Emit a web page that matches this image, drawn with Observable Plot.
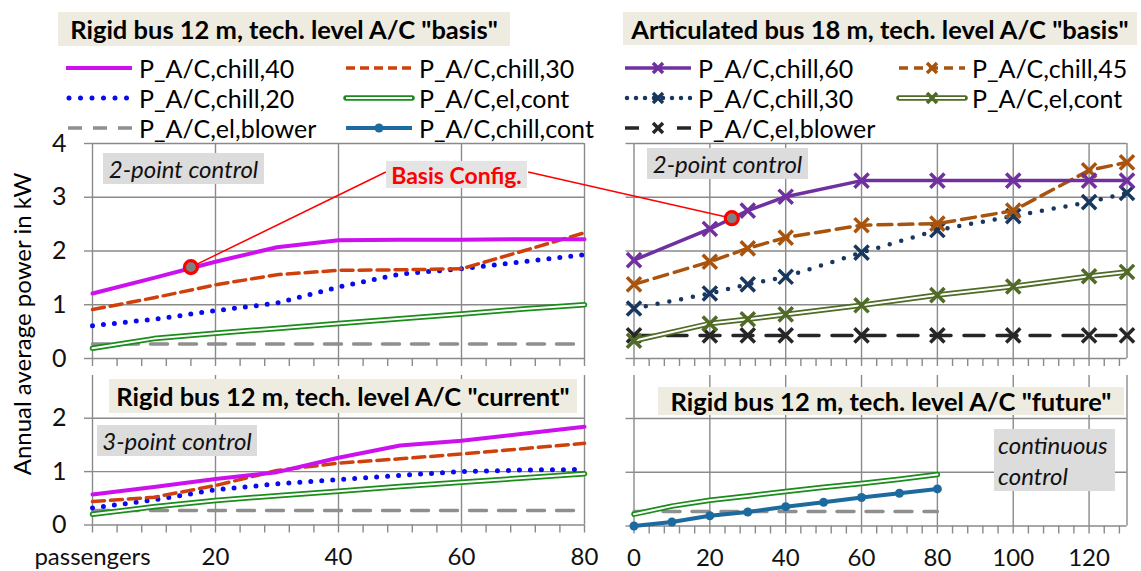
<!DOCTYPE html>
<html><head><meta charset="utf-8">
<script src="https://cdn.jsdelivr.net/npm/d3@7"></script>
<script src="https://cdn.jsdelivr.net/npm/@observablehq/plot@0.6"></script>
<style>
body{margin:0;background:#fff;font-family:Lato,"Open Sans",sans-serif;color:#000;}
#wrap{position:relative;width:1141px;height:571px;overflow:hidden;background:#fff;}
.box{position:absolute;display:flex;align-items:center;justify-content:center;white-space:nowrap;z-index:5;}
.title{background:#eeece1;font-weight:bold;font-size:25.5px;color:#000;}
.ctrl{background:#dcdcdc;font-style:italic;font-size:24px;color:#111;}
.basis{background:#e4e4e4;font-weight:bold;font-size:23px;color:#ff0000;}
.leg{position:absolute;display:flex;align-items:center;font-size:25px;height:28px;white-space:nowrap;z-index:5;}
.leg svg{margin-right:7px;}
.ytitle{position:absolute;left:21px;top:324px;transform:translate(-50%,-50%) rotate(-90deg);font-size:24px;white-space:nowrap;z-index:5;}
</style></head><body><div id="wrap"></div><script>
// ---------------- data ----------------
// Rigid bus 12 m (x = passengers)
const rigidPassengers = [0, 10, 20, 30, 40, 50, 60, 70, 80];
// tech. level "basis"
const basisChill40   = [1.21, 1.50, 1.80, 2.07, 2.20, 2.21, 2.21, 2.22, 2.22];
const basisChill30   = [0.91, 1.13, 1.37, 1.56, 1.64, 1.65, 1.67, 2.00, 2.34];
const basisChill20   = [0.61, 0.73, 0.89, 1.03, 1.33, 1.57, 1.67, 1.80, 1.93];
const basisElCont    = [0.19, 0.37, 0.47, 0.56, 0.65, 0.74, 0.83, 0.92, 1.00];
const basisElBlower  = [0.27, 0.27, 0.27, 0.27, 0.27, 0.27, 0.27, 0.27, 0.27];
// tech. level "current"
const currentChill40  = [0.57, 0.71, 0.86, 0.99, 1.26, 1.49, 1.58, 1.71, 1.84];
const currentChill30  = [0.44, 0.52, 0.74, 1.02, 1.16, 1.24, 1.33, 1.43, 1.53];
const currentChill20  = [0.32, 0.47, 0.66, 0.77, 0.85, 0.93, 1.00, 1.03, 1.04];
const currentElCont   = [0.20, 0.34, 0.46, 0.55, 0.63, 0.72, 0.80, 0.88, 0.96];
const currentElBlower = [0.27, 0.27, 0.27, 0.27, 0.27, 0.27, 0.27, 0.27, 0.27];
// tech. level "future"
const futureChillCont = [0.00, 0.075, 0.19, 0.26, 0.36, 0.44, 0.53, 0.61, 0.69];
const futureElCont    = [0.22, 0.37, 0.48, 0.56, 0.64, 0.72, 0.79, 0.87, 0.96];
const futureElBlower  = [0.27, 0.27, 0.27, 0.27, 0.27, 0.27, 0.27, 0.27, 0.27];
// Articulated bus 18 m, tech. level "basis"
const artPassengers = [0, 20, 30, 40, 60, 80, 100, 120, 130];
const artChill60    = [1.83, 2.41, 2.75, 3.01, 3.31, 3.31, 3.31, 3.31, 3.31];
const artChill45    = [1.38, 1.80, 2.05, 2.25, 2.48, 2.51, 2.75, 3.50, 3.65];
const artChill30    = [0.93, 1.21, 1.38, 1.52, 1.97, 2.39, 2.65, 2.91, 3.08];
const artElCont     = [0.33, 0.65, 0.73, 0.82, 0.99, 1.18, 1.34, 1.53, 1.61];
const artElBlower   = [0.43, 0.43, 0.43, 0.43, 0.43, 0.43, 0.43, 0.43, 0.43];
// "Basis Config." highlighted points [passengers, kW]
const basisPointRigid = [16, 1.70];
const basisPointArt   = [25.8, 2.61];
// tick labels
const rigidTicks = [0, 20, 40, 60, 80];
const rigidTickLabels = ["passengers", "20", "40", "60", "80"];
const artTicks = [0, 20, 40, 60, 80, 100, 120];
const artTickLabels = ["0", "20", "40", "60", "80", "100", "120"];
const yTicksTop = [0, 1, 2, 3, 4];
const yTicksBottom = [0, 1, 2];
// texts
const titles = ['Rigid bus 12 m, tech. level A/C "basis"', 'Articulated bus 18 m, tech. level A/C "basis"',
  'Rigid bus 12 m, tech. level A/C "current"', 'Rigid bus 12 m, tech. level A/C "future"'];
const rigidLegend = ["P_A/C,chill,40", "P_A/C,chill,30", "P_A/C,chill,20", "P_A/C,el,cont", "P_A/C,el,blower", "P_A/C,chill,cont"];
const artLegend = ["P_A/C,chill,60", "P_A/C,chill,45", "P_A/C,chill,30", "P_A/C,el,cont", "P_A/C,el,blower"];

// ---------------- styles ----------------
const C = {
  mag: "#cc11ee", org: "#d0400c", blu: "#0a0aee", grn: "#1a8c1a", gry: "#8f8f8f", cont: "#1d6a9e",
  pur: "#7030a0", brn: "#a8540f", nav: "#17375e", olv: "#4f6b26", blk: "#262626", grid: "#8a8a8a"
};
const S = {
  mag: {stroke: C.mag, strokeWidth: 4},
  org: {stroke: C.org, strokeWidth: 3.5, strokeDasharray: "12,6"},
  blu: {stroke: C.blu, strokeWidth: 5, strokeDasharray: "0,11", strokeLinecap: "round"},
  gry: {stroke: C.gry, strokeWidth: 3.5, strokeDasharray: "17,12"},
  cont: {stroke: C.cont, strokeWidth: 4},
  pur: {stroke: C.pur, strokeWidth: 3.5},
  brn: {stroke: C.brn, strokeWidth: 3.5, strokeDasharray: "14,7"},
  nav: {stroke: C.nav, strokeWidth: 4.5, strokeDasharray: "0,12", strokeLinecap: "round"},
  blk: {stroke: C.blk, strokeWidth: 3.5, strokeDasharray: "20,13"}
};

const W = 1141, H = 571;
const wrap = document.getElementById("wrap");
const rows = (xs, ys) => xs.map((x, i) => ({x, y: ys[i]}));

function line(xs, ys, st) { return Plot.line(rows(xs, ys), {x: "x", y: "y", ...st}); }
function dbl(xs, ys, color) {
  return [Plot.line(rows(xs, ys), {x: "x", y: "y", stroke: color, strokeWidth: 5.5}),
          Plot.line(rows(xs, ys), {x: "x", y: "y", stroke: "#fff", strokeWidth: 2})];
}
function xs(xv, yv, color) {
  return Plot.dot(rows(xv, yv), {x: "x", y: "y", symbol: "times", r: 6.5, stroke: color, strokeWidth: 3.5});
}

function panel({xDomain, yDomain, mL, mR, mT, mB, gridXs, minorStep, xTicks, xLabels, yTicks, yLabels, marks}) {
  const minor = d3.range(xDomain[0], xDomain[1] + 0.001, minorStep);
  const axes = [
    Plot.gridX(gridXs, {stroke: C.grid, strokeOpacity: 1, strokeWidth: 1.4}),
    Plot.gridY(yTicks, {stroke: C.grid, strokeOpacity: 1, strokeWidth: 1.4}),
    Plot.axisY(yTicks, {tickSize: 8, tickPadding: 18, stroke: C.grid, strokeWidth: 1.4, fontSize: 25, fill: "#111",
      tickFormat: yLabels ? (d => String(d)) : (() => ""), label: null}),
    Plot.axisX(minor, {tickSize: 8, stroke: C.grid, strokeWidth: 1.4, tickFormat: () => "", label: null})
  ];
  if (xLabels) axes.push(Plot.axisX(xTicks, {tickSize: 0, tickPadding: 23, fontSize: 24, fill: "#111",
    tickFormat: (d) => xLabels[xTicks.indexOf(d)], label: null}));
  const svg = Plot.plot({
    width: W, height: H, marginLeft: mL, marginRight: mR, marginTop: mT, marginBottom: mB,
    x: {domain: xDomain}, y: {domain: yDomain},
    style: {position: "absolute", left: "0px", top: "0px", background: "transparent", fontFamily: "Lato, 'Open Sans', sans-serif", overflow: "visible"},
    marks: [...axes, ...marks]
  });
  wrap.appendChild(svg);
}

// anchors of the "Basis Config." callout (data coords of the label edges)
const calloutLeft = {x1: basisPointRigid[0], y1: basisPointRigid[1], x2: 47.7, y2: 3.47};
const calloutRight = {x1: -27.9, y1: 3.47, x2: basisPointArt[0], y2: basisPointArt[1]};
const basisDot = (p) => Plot.dot([{x: p[0], y: p[1]}], {x: "x", y: "y", r: 6.5, fill: "#808080", stroke: "#ff0000", strokeWidth: 3.2});

// Top-left: Rigid basis
panel({xDomain: [0, 80], yDomain: [0, 4], mL: 92, mR: W - 584, mT: 143, mB: H - 358,
  gridXs: rigidTicks, minorStep: 4, xTicks: rigidTicks, xLabels: null, yTicks: yTicksTop, yLabels: true,
  marks: [
    line(rigidPassengers, basisElBlower, S.gry),
    ...dbl(rigidPassengers, basisElCont, C.grn),
    line(rigidPassengers, basisChill20, S.blu),
    line(rigidPassengers, basisChill30, S.org),
    line(rigidPassengers, basisChill40, S.mag),
    Plot.link([calloutLeft], {x1: "x1", y1: "y1", x2: "x2", y2: "y2", stroke: "#ff0000", strokeWidth: 1.5}),
    basisDot(basisPointRigid)
  ]});

// Top-right: Articulated basis
panel({xDomain: [0, 130], yDomain: [0, 4], mL: 633.5, mR: W - 1126.5, mT: 143, mB: H - 358,
  gridXs: [...artTicks, 130], minorStep: 4, xTicks: artTicks, xLabels: null, yTicks: yTicksTop, yLabels: false,
  marks: [
    line(artPassengers, artElBlower, S.blk), xs(artPassengers, artElBlower, C.blk),
    ...dbl(artPassengers, artElCont, C.olv), xs(artPassengers, artElCont, C.olv),
    line(artPassengers, artChill30, S.nav), xs(artPassengers, artChill30, C.nav),
    line(artPassengers, artChill45, S.brn), xs(artPassengers, artChill45, C.brn),
    line(artPassengers, artChill60, S.pur), xs(artPassengers, artChill60, C.pur),
    Plot.link([calloutRight], {x1: "x1", y1: "y1", x2: "x2", y2: "y2", stroke: "#ff0000", strokeWidth: 1.5}),
    basisDot(basisPointArt)
  ]});

// Bottom-left: Rigid current
panel({xDomain: [0, 80], yDomain: [0, 2.8], mL: 92, mR: W - 584, mT: 375, mB: H - 524.5,
  gridXs: rigidTicks, minorStep: 4, xTicks: rigidTicks, xLabels: rigidTickLabels, yTicks: yTicksBottom, yLabels: true,
  marks: [
    line(rigidPassengers, currentElBlower, S.gry),
    ...dbl(rigidPassengers, currentElCont, C.grn),
    line(rigidPassengers, currentChill20, S.blu),
    line(rigidPassengers, currentChill30, S.org),
    line(rigidPassengers, currentChill40, S.mag)
  ]});

// Bottom-right: Rigid future
panel({xDomain: [0, 130], yDomain: [0, 2.8], mL: 633.5, mR: W - 1126.5, mT: 375, mB: H - 525.5,
  gridXs: [...artTicks, 130], minorStep: 4, xTicks: artTicks, xLabels: artTickLabels, yTicks: yTicksBottom, yLabels: false,
  marks: [
    line(rigidPassengers, futureElBlower, S.gry),
    ...dbl(rigidPassengers, futureElCont, C.grn),
    line(rigidPassengers, futureChillCont, S.cont),
    Plot.dot(rows(rigidPassengers, futureChillCont), {x: "x", y: "y", r: 4.5, fill: C.cont})
  ]});

// ---------------- HTML overlays ----------------
function box(cls, text, l, t, w, h, extra) {
  const d = document.createElement("div");
  d.className = "box " + cls;
  d.style.left = l + "px"; d.style.top = t + "px"; d.style.width = w + "px"; d.style.height = h + "px";
  if (extra) Object.assign(d.style, extra);
  d.innerHTML = text;
  wrap.appendChild(d);
}
box("title", titles[0], 58, 12, 452, 34);
box("title", titles[1], 623, 12, 514, 33);
box("title", titles[2], 109, 379, 468, 34);
box("title", titles[3], 658, 387, 466, 28);
box("ctrl", "2-point control", 103, 153, 161, 31);
box("ctrl", "2-point control", 647, 148, 161, 31);
box("ctrl", "3-point control", 97, 425, 160, 31);
box("ctrl", "continuous<br>control", 994, 429, 121, 62, {justifyContent: "flex-start", paddingLeft: "4px", boxSizing: "border-box", lineHeight: "31px", textAlign: "left"});
box("basis", "Basis Config.", 386, 161, 141, 27);

const yt = document.createElement("div");
yt.className = "ytitle"; yt.textContent = "Annual average power in kW"; wrap.appendChild(yt);

// legend swatches
const NS = "http://www.w3.org/2000/svg";
function swatch(kind) {
  const w = 66, h = 20, cy = 10;
  let s = `<svg xmlns="${NS}" width="${w}" height="${h}" style="overflow:visible">`;
  const L = (st) => `<line x1="0" x2="${w}" y1="${cy}" y2="${cy}" ${st}/>`;
  const X = (c) => `<path d="M${w/2-5},${cy-5}L${w/2+5},${cy+5}M${w/2-5},${cy+5}L${w/2+5},${cy-5}" stroke="${c}" stroke-width="3.5"/>`;
  switch (kind) {
    case "mag": s += L(`stroke="${C.mag}" stroke-width="4"`); break;
    case "org": s += L(`stroke="${C.org}" stroke-width="3.5" stroke-dasharray="9,5"`); break;
    case "blu": s += `<line x1="3" x2="${w}" y1="${cy}" y2="${cy}" stroke="${C.blu}" stroke-width="5" stroke-linecap="round" stroke-dasharray="0,11.5"/>`; break;
    case "grn": s += L(`stroke="${C.grn}" stroke-width="5.5" stroke-linecap="round"`) + L(`stroke="#fff" stroke-width="2"`); break;
    case "gry": s += `<line x1="2" x2="${w}" y1="${cy}" y2="${cy}" stroke="${C.gry}" stroke-width="3.5" stroke-dasharray="14,11"/>`; break;
    case "cont": s += L(`stroke="${C.cont}" stroke-width="4"`) + `<circle cx="${w/2}" cy="${cy}" r="4.5" fill="${C.cont}"/>`; break;
    case "pur": s += L(`stroke="${C.pur}" stroke-width="3.5"`) + X(C.pur); break;
    case "brn": s += L(`stroke="${C.brn}" stroke-width="3.5" stroke-dasharray="9,6"`) + X(C.brn); break;
    case "nav": s += `<line x1="2" x2="${w}" y1="${cy}" y2="${cy}" stroke="${C.nav}" stroke-width="4.5" stroke-linecap="round" stroke-dasharray="0,9"/>` + X(C.nav); break;
    case "olv": s += L(`stroke="${C.olv}" stroke-width="5.5" stroke-linecap="round"`) + L(`stroke="#fff" stroke-width="2"`) + X(C.olv); break;
    case "blk": s += `<line x1="0" x2="14" y1="${cy}" y2="${cy}" stroke="${C.blk}" stroke-width="3.5"/><line x1="${w-14}" x2="${w}" y1="${cy}" y2="${cy}" stroke="${C.blk}" stroke-width="3.5"/>` + X(C.blk); break;
  }
  return s + "</svg>";
}
function legend(label, kind, l, cy) {
  const d = document.createElement("div");
  d.className = "leg";
  d.style.left = l + "px"; d.style.top = (cy - 14) + "px";
  d.innerHTML = swatch(kind) + `<span>${label}</span>`;
  wrap.appendChild(d);
}
const rigidKinds = ["mag", "org", "blu", "grn", "gry", "cont"];
rigidLegend.forEach((lab, i) => legend(lab, rigidKinds[i], i % 2 ? 346 : 66, 68 + 30 * Math.floor(i / 2)));
const artKinds = ["pur", "brn", "nav", "olv", "blk"];
artLegend.forEach((lab, i) => legend(lab, artKinds[i], i % 2 ? 899 : 625, 68 + 30 * Math.floor(i / 2)));
</script></body></html>
